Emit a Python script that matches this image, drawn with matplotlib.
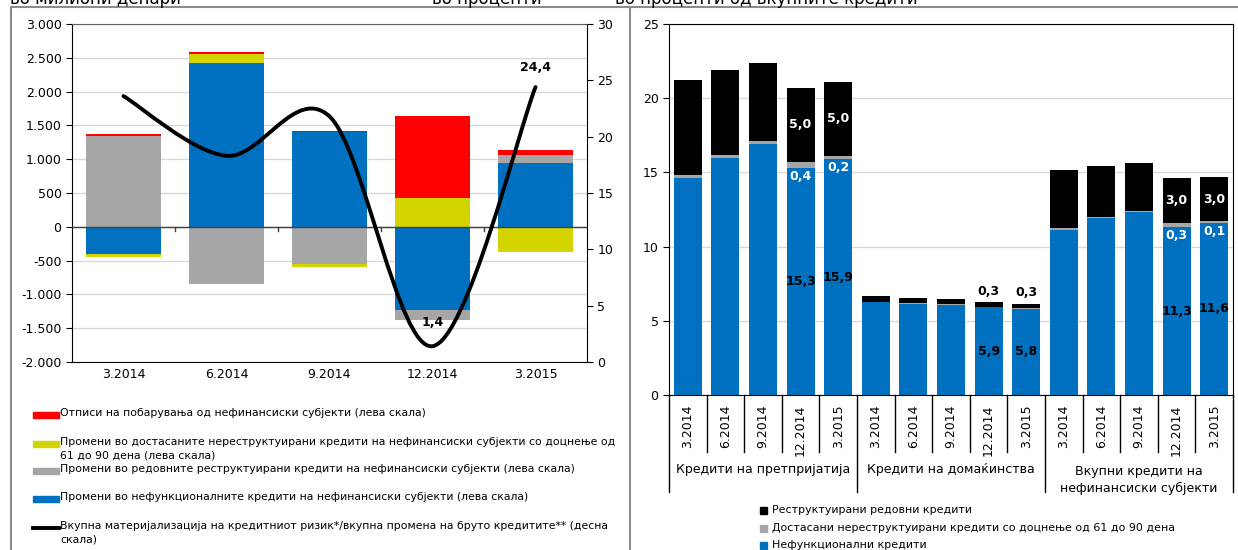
import numpy as np
import matplotlib
matplotlib.use("Agg")
import matplotlib.pyplot as plt
from matplotlib.patches import Rectangle
from matplotlib.lines import Line2D
from matplotlib.path import Path
from matplotlib.patches import PathPatch
from matplotlib.transforms import blended_transform_factory

plt.rcParams['font.family'] = ['DejaVu Sans']

# left chart: changes, millions of denars (left scale) and ratio in % (right scale)
quarters = ['3.2014', '6.2014', '9.2014', '12.2014', '3.2015']
write_offs = [30, 25, 20, 1210, 75]
overdue_61_90 = [-50, 140, -45, 430, -380]
restructured = [1350, -850, -550, -150, 115]
npl_change = [-400, 2420, 1400, -1230, 950]
risk_ratio = [23.6, 18.3, 21.8, 1.4, 24.4]
risk_labels = {3: '1,4', 4: '24,4'}

left_names = [
    'Отписи на побарувања од нефинансиски субјекти (лева скала)',
    'Промени во достасаните нереструктуирани кредити на нефинансиски субјекти со доцнење од\n61 до 90 дена (лева скала)',
    'Промени во редовните реструктуирани кредити на нефинансиски субјекти (лева скала)',
    'Промени во нефункционалните кредити на нефинансиски субјекти (лева скала)',
    'Вкупна материјализација на кредитниот ризик*/вкупна промена на бруто кредитите** (десна\nскала)',
]

# right chart: % of total loans
groups = ['Кредити на претпријатија', 'Кредити на домаќинства', 'Вкупни кредити на\nнефинансиски субјекти']
periods = ['3.2014', '6.2014', '9.2014', '12.2014', '3.2015']
npl_share = [14.65, 16.0, 16.9, 15.3, 15.9,
             6.25, 6.15, 6.05, 5.9, 5.8,
             11.15, 11.9, 12.3, 11.3, 11.6]
overdue_share = [0.15, 0.2, 0.2, 0.4, 0.2,
                 0.05, 0.05, 0.05, 0.05, 0.05,
                 0.1, 0.1, 0.1, 0.3, 0.1]
restr_share = [6.45, 5.7, 5.3, 5.0, 5.0,
               0.4, 0.35, 0.35, 0.3, 0.3,
               3.9, 3.45, 3.2, 3.0, 3.0]
right_names = ['Реструктуирани редовни кредити',
               'Достасани нереструктуирани кредити со доцнење од 61 до 90 дена',
               'Нефункционални кредити']

RED = '#ff0000'
YEL = '#d4d400'
GRY = '#a6a6a6'
BLU = '#0070c0'

W, H = 1238, 550
fig = plt.figure(figsize=(W / 100, H / 100), dpi=100)


def fx(px):
    return px / W


def fy(py):
    return 1 - py / H


# header texts (cut at top in the original)
for x, s in [(10, 'во милиони денари'), (432, 'во проценти'), (615, 'во проценти од вкупните кредити')]:
    fig.text(fx(x), fy(4), s, fontsize=12, va='baseline', ha='left')

# panel borders
bc = '#8c8c8c'
fig.add_artist(Line2D([fx(11), 1], [fy(7), fy(7)], color=bc, lw=1.5))
fig.add_artist(Line2D([fx(11), fx(11)], [fy(7), 0], color=bc, lw=1.5))
fig.add_artist(Line2D([fx(630), fx(630)], [fy(7), 0], color=bc, lw=1.5))

# ---------------- left chart ----------------
ax = fig.add_axes([fx(72), fy(362), fx(587 - 72), fy(24) - fy(362)])
x = np.arange(len(quarters))
bw = 0.73
series = [(npl_change, BLU), (restructured, GRY), (overdue_61_90, YEL), (write_offs, RED)]
pos = np.zeros(len(x))
neg = np.zeros(len(x))
for vals, col in series:
    v = np.array(vals, dtype=float)
    b = np.where(v >= 0, pos, neg)
    ax.bar(x, v, bw, bottom=b, color=col, zorder=2)
    pos = pos + np.where(v >= 0, v, 0)
    neg = neg + np.where(v < 0, v, 0)

ax.set_xlim(-0.5, len(x) - 0.5)
ax.set_ylim(-2000, 3000)
ax.set_yticks(np.arange(-2000, 3001, 500))
ax.set_yticklabels([f'{v:,}'.replace(',', '.') for v in range(-2000, 3001, 500)], fontsize=9)
ax.yaxis.grid(True, color='#d9d9d9', lw=1, zorder=0)
ax.axhline(0, color='#404040', lw=1, zorder=3)
ax.set_xticks([])
for i, q in enumerate(quarters):
    ax.text(i, -2180, q, ha='center', va='center', fontsize=9)
for b in [0.5, 1.5, 2.5, 3.5]:
    ax.plot([b, b], [0, -60], color='#404040', lw=1, zorder=3)
for s in ['left', 'right', 'bottom']:
    ax.spines[s].set_color('black')
ax.spines['top'].set_color('#606060')
ax.tick_params(axis='y', length=4, direction='out')

ax2 = ax.twinx()
ax2.set_ylim(0, 30)
ax2.set_yticks(range(0, 31, 5))
ax2.tick_params(axis='y', length=4, labelsize=9)
for s in ['left', 'right', 'bottom', 'top']:
    ax2.spines[s].set_visible(False)

# smoothed line (Excel-like Catmull-Rom bezier)
pts = np.column_stack([x, risk_ratio]).astype(float)
ext = np.vstack([pts[0], pts, pts[-1]])
verts = [tuple(pts[0])]
codes = [Path.MOVETO]
for i in range(len(pts) - 1):
    p0, p1, p2, p3 = ext[i], ext[i + 1], ext[i + 2], ext[i + 3]
    c1 = p1 + (p2 - p0) / 6
    c2 = p2 - (p3 - p1) / 6
    verts += [tuple(c1), tuple(c2), tuple(p2)]
    codes += [Path.CURVE4] * 3
ax2.add_patch(PathPatch(Path(verts, codes), fill=False, edgecolor='black', lw=2.8, zorder=5,
                        capstyle='round'))
ax2.text(3, risk_ratio[3] + 2.1, risk_labels[3], ha='center', va='center', fontsize=9, fontweight='bold')
ax2.text(4, risk_ratio[4] + 1.7, risk_labels[4], ha='center', va='center', fontsize=9, fontweight='bold')

# left legend
leg_items = [(RED, 'box', 415), (YEL, 'box', 444), (GRY, 'box', 471), (BLU, 'box', 499), ('black', 'line', 528)]
for (col, kind, yy), name in zip(leg_items, left_names):
    if kind == 'box':
        fig.add_artist(Rectangle((fx(33), fy(yy + 3)), fx(26), fy(yy - 3) - fy(yy + 3), color=col))
    else:
        fig.add_artist(Line2D([fx(33), fx(59)], [fy(yy), fy(yy)], color=col, lw=2.8))
    fig.text(fx(60), fy(yy - 7), name, fontsize=7.8, va='top', ha='left', linespacing=1.5)

# ---------------- right chart ----------------
bx = fig.add_axes([fx(669), fy(395), fx(1233 - 669), fy(24) - fy(395)])
xr = np.arange(len(npl_share))
npl = np.array(npl_share)
ovd = np.array(overdue_share)
rst = np.array(restr_share)
bx.bar(xr, npl, 0.74, color=BLU, zorder=2)
bx.bar(xr, ovd, 0.74, bottom=npl, color=GRY, zorder=2)
bx.bar(xr, rst, 0.74, bottom=npl + ovd, color='black', zorder=2)
bx.set_xlim(-0.5, len(xr) - 0.5)
bx.set_ylim(0, 25)
bx.set_yticks(range(0, 26, 5))
bx.tick_params(axis='y', length=4, labelsize=9)
bx.yaxis.grid(True, color='#d9d9d9', lw=1, zorder=0)
for s in bx.spines.values():
    s.set_color('black')
bx.set_xticks(xr)
bx.set_xticklabels(periods * 3, rotation=90, fontsize=9, va='top')
bx.tick_params(axis='x', length=0, pad=7)

tr = blended_transform_factory(bx.transData, bx.transAxes)
ah = 395 - 24
for b in np.arange(-0.5, len(xr), 1.0):
    long = abs((b + 0.5) % 5) < 1e-9
    y_end = -(492 - 395) / ah if long else -(452 - 395) / ah
    bx.plot([b, b], [0, y_end], color='black', lw=1, transform=tr, clip_on=False)
for g, name in enumerate(groups):
    yl = -(470 - 395) / ah if '\n' not in name else -(480 - 395) / ah
    bx.text(g * 5 + 2, yl, name, transform=tr, ha='center', va='center', fontsize=9, linespacing=1.4)

# data labels on last two periods of each group
for i in [3, 4, 13, 14]:
    bx.text(i, npl[i] + ovd[i] + rst[i] / 2, f'{rst[i]:.1f}'.replace('.', ','), ha='center', va='center',
            color='white', fontsize=9, fontweight='bold', zorder=4)
    bx.text(i, npl[i] - 0.55, f'{ovd[i]:.1f}'.replace('.', ','), ha='center', va='center',
            color='white', fontsize=9, fontweight='bold', zorder=4)
    bx.text(i, npl[i] / 2, f'{npl[i]:.1f}'.replace('.', ','), ha='center', va='center',
            color='black', fontsize=9, fontweight='bold', zorder=4)
for i in [8, 9]:
    bx.text(i, npl[i] + ovd[i] + rst[i] + 0.75, f'{rst[i]:.1f}'.replace('.', ','), ha='center', va='center',
            color='black', fontsize=9, fontweight='bold', zorder=4)
    bx.text(i, npl[i] / 2, f'{npl[i]:.1f}'.replace('.', ','), ha='center', va='center',
            color='black', fontsize=9, fontweight='bold', zorder=4)

# right legend
for (col, yy), name in zip([('black', 510), (GRY, 528), (BLU, 545)], right_names):
    fig.add_artist(Rectangle((fx(760), fy(yy + 3.5)), fx(7), fy(yy - 3.5) - fy(yy + 3.5), color=col))
    fig.text(fx(772), fy(yy), name, fontsize=7.9, va='center', ha='left')

fig.savefig('out.png', dpi=100)
